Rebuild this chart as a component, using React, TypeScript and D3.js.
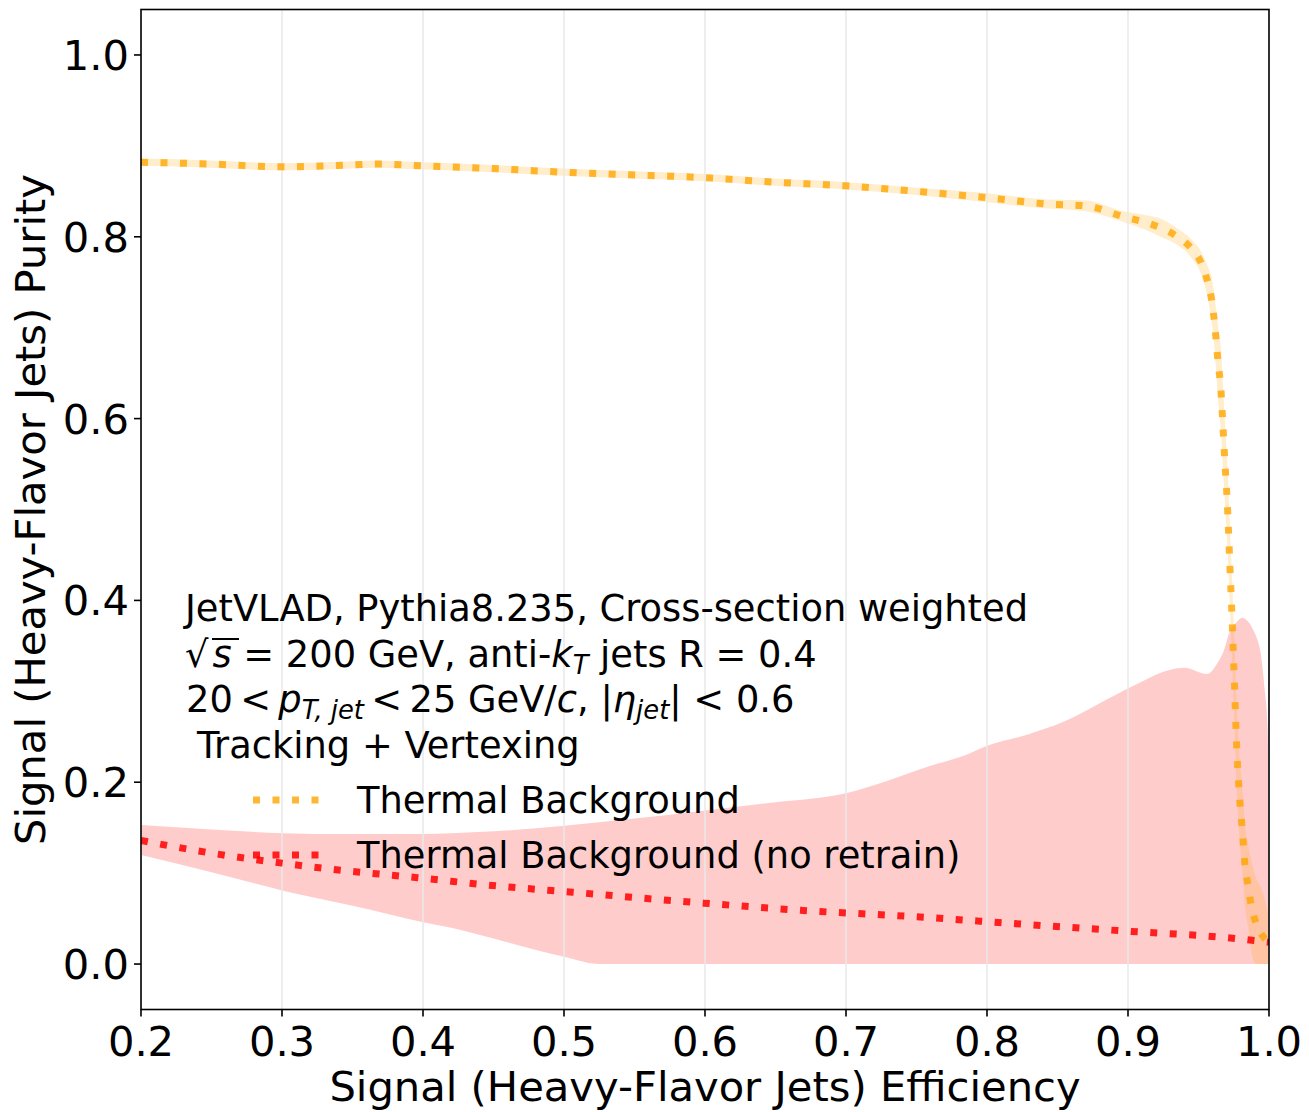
import React from "react";
import * as d3 from "d3";

// Axis ticks
const xTicks = [0.2, 0.3, 0.4, 0.5, 0.6, 0.7, 0.8, 0.9, 1.0];
const yTicks = [0.0, 0.2, 0.4, 0.6, 0.8, 1.0];

// Thermal Background: mean purity vs efficiency, with its spread
const orangeEff = [
  0.2, 0.25, 0.3, 0.35, 0.366, 0.4, 0.45, 0.5, 0.55, 0.6, 0.65, 0.7, 0.75, 0.8,
  0.843, 0.87, 0.897, 0.912, 0.923, 0.935, 0.945, 0.9525, 0.9567, 0.9596,
  0.9617, 0.9638, 0.966, 0.9674, 0.9688, 0.9702, 0.9712, 0.9722, 0.9733,
  0.9745, 0.9757, 0.9768, 0.978, 0.9795, 0.9809, 0.983, 0.9851, 0.9872,
  0.9908, 0.995, 0.9993,
];
const orangePur = [
  0.882, 0.88, 0.877, 0.879, 0.88, 0.878, 0.875, 0.871, 0.868, 0.865, 0.86,
  0.856, 0.85, 0.843, 0.836, 0.834, 0.822, 0.816, 0.81, 0.8, 0.787, 0.769,
  0.749, 0.728, 0.7, 0.663, 0.63, 0.59, 0.55, 0.514, 0.48, 0.44, 0.4, 0.35,
  0.3, 0.25, 0.21, 0.175, 0.151, 0.108, 0.087, 0.066, 0.045, 0.032, 0.025,
];
const orangeErr = [
  0.004, 0.004, 0.004, 0.004, 0.004, 0.004, 0.004, 0.004, 0.004, 0.004, 0.004,
  0.004, 0.004, 0.005, 0.005, 0.006, 0.006, 0.008, 0.01, 0.009, 0.01, 0.013,
  0.018, 0.025, 0.03, 0.04, 0.045, 0.045, 0.045, 0.045, 0.045, 0.045, 0.045,
  0.045, 0.045, 0.045, 0.045, 0.045, 0.045, 0.045, 0.045, 0.05, 0.05, 0.05,
  0.03,
];

// Thermal Background (no retrain): mean purity vs efficiency
const redEff = [
  0.2, 0.21, 0.25, 0.3, 0.343, 0.396, 0.452, 0.506, 0.599, 0.669, 0.75, 0.833,
  0.901, 0.97, 1.0,
];
const redPur = [
  0.136, 0.133, 0.122, 0.111, 0.103, 0.095, 0.086, 0.079, 0.067, 0.059, 0.052,
  0.043, 0.036, 0.029, 0.024,
];

// Thermal Background (no retrain): spread band
const redBandEff = [
  0.2, 0.25, 0.3, 0.35, 0.4, 0.42, 0.45, 0.5, 0.525, 0.55, 0.6, 0.65, 0.7,
  0.73, 0.76, 0.785, 0.8, 0.83, 0.855, 0.88, 0.905, 0.928, 0.94, 0.956, 0.963,
  0.968, 0.972, 0.977, 0.981, 0.985, 0.988, 0.991, 0.994, 0.997, 0.999, 1.0,
];
const redBandLow = [
  0.12, 0.101, 0.081, 0.064, 0.046, 0.04, 0.028, 0.008, 0, 0, 0, 0, 0, 0, 0, 0,
  0, 0, 0, 0, 0, 0, 0, 0, 0, 0, 0, 0, 0, 0, 0, 0, 0, 0, 0, 0,
];
const redBandHigh = [
  0.153, 0.148, 0.144, 0.143, 0.143, 0.144, 0.146, 0.152, 0.156, 0.16, 0.169,
  0.178, 0.188, 0.202, 0.218, 0.23, 0.24, 0.253, 0.267, 0.287, 0.307, 0.323,
  0.326, 0.319, 0.33, 0.345, 0.365, 0.376, 0.381, 0.377, 0.37, 0.36, 0.343,
  0.301, 0.26, 0.15,
];

const legendLabels = ["Thermal Background", "Thermal Background (no retrain)"];

const FONT = "DejaVu Sans";
const ORANGE = "#FFA500";
const RED = "#FF0000";
const THIN = "\u2009";

export default function App() {
  const left = 141;
  const right = 1269;
  const top = 9.5;
  const bottom = 1009.5;
  const x = d3.scaleLinear().domain([0.2, 1.0]).range([left, right]);
  const y = d3.scaleLinear().domain([-0.05, 1.05]).range([bottom, top]);

  const orangeArea = d3
    .area<number>()
    .x((i) => x(orangeEff[i]))
    .y0((i) => y(Math.max(0, orangePur[i] - orangeErr[i])))
    .y1((i) => y(orangePur[i] + orangeErr[i]))
    .curve(d3.curveMonotoneX)(orangeEff.map((_, i) => i));

  const redArea = d3
    .area<number>()
    .x((i) => x(redBandEff[i]))
    .y0((i) => y(redBandLow[i]))
    .y1((i) => y(redBandHigh[i]))
    .curve(d3.curveMonotoneX)(redBandEff.map((_, i) => i));

  const orangeLine = d3
    .line<number>()
    .x((i) => x(orangeEff[i]))
    .y((i) => y(orangePur[i]))
    .curve(d3.curveMonotoneX)(orangeEff.map((_, i) => i));

  const redLine = d3
    .line<number>()
    .x((i) => x(redEff[i]))
    .y((i) => y(redPur[i]))
    .curve(d3.curveMonotoneX)(redEff.map((_, i) => i));

  const lw = 7;
  const dash = "7 12.5";
  const fs = 36.8;
  const sub = 25.8;

  return (
    <div style={{ position: "absolute", left: 0, top: 0 }}>
      <svg width={1309} height={1112} style={{ display: "block", background: "#fff" }} fontFamily={FONT}>
        <defs>
          <clipPath id="plotArea">
            <rect x={left} y={top} width={right - left} height={bottom - top} />
          </clipPath>
        </defs>

        <g clipPath="url(#plotArea)">
          <path d={redArea ?? ""} fill={RED} fillOpacity={0.2} stroke="none" />
          <path d={orangeArea ?? ""} fill={ORANGE} fillOpacity={0.2} stroke="none" />
          {xTicks.map((t) => (
            <line key={t} x1={x(t)} x2={x(t)} y1={top} y2={bottom} stroke="#e8e8e8" strokeWidth={1.5} />
          ))}
          <path d={orangeLine ?? ""} fill="none" stroke={ORANGE} strokeOpacity={0.8} strokeWidth={lw} strokeDasharray={dash} />
          <path d={redLine ?? ""} fill="none" stroke={RED} strokeOpacity={0.85} strokeWidth={lw} strokeDasharray={dash} />
        </g>

        {/* spines */}
        <rect x={left} y={top} width={right - left} height={bottom - top} fill="none" stroke="#000" strokeWidth={1.6} />

        {/* x axis */}
        {xTicks.map((t) => (
          <g key={t}>
            <line x1={x(t)} x2={x(t)} y1={bottom} y2={bottom + 7} stroke="#000" strokeWidth={1.6} />
            <text x={x(t)} y={1056} fontSize={41.67} textAnchor="middle" fill="#000">
              {t.toFixed(1)}
            </text>
          </g>
        ))}
        <text x={(left + right) / 2} y={1101} fontSize={41.67} textAnchor="middle" fill="#000">
          Signal (Heavy-Flavor Jets) Efficiency
        </text>

        {/* y axis */}
        {yTicks.map((t) => (
          <g key={t}>
            <line x1={left - 7} x2={left} y1={y(t)} y2={y(t)} stroke="#000" strokeWidth={1.6} />
            <text x={129} y={y(t) + 15} fontSize={41.67} textAnchor="end" fill="#000">
              {t.toFixed(1)}
            </text>
          </g>
        ))}
        <text
          transform={`translate(45, ${(top + bottom) / 2}) rotate(-90)`}
          fontSize={41.67}
          textAnchor="middle"
          fill="#000"
        >
          Signal (Heavy-Flavor Jets) Purity
        </text>

        {/* annotation block */}
        <g fontSize={fs} fill="#000">
          <text x={185} y={621}>JetVLAD, Pythia8.235, Cross-section weighted</text>
          <text x={185} y={667}>
            √<tspan fontStyle="italic" dx={4}>s</tspan>
            <tspan> = 200 GeV, anti-</tspan>
            <tspan fontStyle="italic">k</tspan>
            <tspan fontStyle="italic" fontSize={sub} dy={7}>T</tspan>
            <tspan dy={-7}> jets R = 0.4</tspan>
          </text>
          <line x1={212} x2={239} y1={639} y2={639} stroke="#000" strokeWidth={2} />
          <text x={186} y={712}>
            {`20${THIN}<${THIN}`}
            <tspan fontStyle="italic">p</tspan>
            <tspan fontStyle="italic" fontSize={sub} dy={7}>T, jet</tspan>
            <tspan dy={-7}>{`${THIN}<${THIN}25 GeV/`}</tspan>
            <tspan fontStyle="italic">c</tspan>
            <tspan>, |</tspan>
            <tspan fontStyle="italic">η</tspan>
            <tspan fontStyle="italic" fontSize={sub} dy={7}>jet</tspan>
            <tspan dy={-7}>| &lt; 0.6</tspan>
          </text>
          <text x={197} y={758}>Tracking + Vertexing</text>
        </g>

        {/* legend */}
        <g fontSize={fs} fill="#000">
          <line x1={253} x2={320} y1={800} y2={800} stroke={ORANGE} strokeOpacity={0.8} strokeWidth={lw} strokeDasharray={dash} />
          <text x={357} y={813}>{legendLabels[0]}</text>
          <line x1={253} x2={320} y1={855} y2={855} stroke={RED} strokeOpacity={0.85} strokeWidth={lw} strokeDasharray={dash} />
          <text x={357} y={868}>{legendLabels[1]}</text>
        </g>
      </svg>
    </div>
  );
}
